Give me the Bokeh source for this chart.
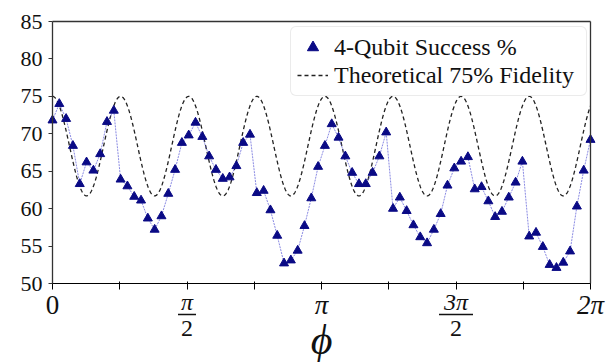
import numpy as np
from bokeh.plotting import figure
from bokeh.models import (Range1d, FixedTicker, Label, Legend, LegendItem,
                          ColumnDataSource, CustomJSTickFormatter, LinearAxis)
from bokeh.embed import file_html
from bokeh.resources import INLINE

# ---------------- data ----------------
N_SAMPLES = 80
success = [71.8, 74.0, 72.0, 68.4, 63.3, 66.2, 65.1, 67.3, 71.6, 73.1,
           63.9, 63.0, 61.6, 61.1, 58.7, 57.2, 59.0, 62.0, 65.2, 68.8,
           69.8, 71.5, 69.6, 67.0, 65.2, 64.0, 64.2, 65.7, 68.8, 69.9,
           62.1, 62.4, 59.8, 56.4, 52.7, 53.1, 54.4, 57.7, 61.4, 65.6,
           68.4, 71.3, 69.5, 67.0, 64.8, 63.3, 63.3, 64.8, 67.0, 70.2,
           60.0, 61.5, 59.7, 57.8, 56.2, 55.4, 57.2, 59.3, 63.1, 65.4,
           66.3, 66.9, 62.6, 62.9, 61.0, 58.9, 59.6, 61.5, 63.5, 66.3,
           56.3, 56.8, 54.9, 52.5, 52.1, 52.8, 54.3, 60.3, 65.1, 69.2]
phi = np.linspace(0, 2 * np.pi, N_SAMPLES)

# theoretical curve (analytic): peak 75, trough 61.7, one period per 10 samples
THEORY_MAX = 75.0
THEORY_MIN = 61.7
THEORY_PERIOD = 10 * (2 * np.pi / (N_SAMPLES - 1))
phi_fine = np.linspace(0, 2 * np.pi, 800)
theory = (THEORY_MAX + THEORY_MIN) / 2 + (THEORY_MAX - THEORY_MIN) / 2 * np.cos(2 * np.pi * phi_fine / THEORY_PERIOD)

y_ticks = [50, 55, 60, 65, 70, 75, 80, 85]
x_ticks = [k * np.pi / 4 for k in range(9)]
x_single_labels = [(0.0, "0", "normal"), (np.pi, "π", "italic"), (2 * np.pi, "2π", "italic")]
x_fraction_labels = [(np.pi / 2, "π"), (3 * np.pi / 2, "3π")]
x_title = "ϕ"

# ---------------- layout (whole canvas is the frame; axes sit at fixed spots) ----------------
W, H = 613, 362
LEFT, RIGHT, TOP, BOTTOM = 52, 23, 21, 79      # margins around the plotting box
YMIN, YMAX = 50, 85
XMAX = 2 * np.pi
YPX = (YMAX - YMIN) / (H - TOP - BOTTOM)       # data units per pixel
PX = XMAX / (W - LEFT - RIGHT)                 # phi units per pixel

def below(px):
    """data-y for a point px pixels below the y=50 axis"""
    return YMIN - px * YPX

SERIF = "serif"
INK = "#111111"
AX = "#333333"

p = figure(width=W, height=H, output_backend="svg", toolbar_location=None,
           x_range=Range1d(-LEFT * PX, XMAX + RIGHT * PX),
           y_range=Range1d(below(BOTTOM), YMAX + TOP * YPX),
           min_border_left=0, min_border_right=0,
           min_border_top=0, min_border_bottom=0)
p.background_fill_color = "white"
p.border_fill_color = "white"
p.outline_line_color = None
p.xgrid.visible = False
p.ygrid.visible = False

p.yaxis.ticker = FixedTicker(ticks=y_ticks)
p.yaxis.bounds = (YMIN, YMAX)
p.yaxis.fixed_location = 0
p.yaxis.major_label_text_font = SERIF
p.yaxis.major_label_text_font_size = "22px"
p.yaxis.major_label_text_color = INK
p.yaxis.major_label_standoff = 6
p.xaxis.ticker = FixedTicker(ticks=x_ticks)
p.xaxis.bounds = (0, XMAX)
p.xaxis.fixed_location = YMIN
p.xaxis.formatter = CustomJSTickFormatter(code="return ''")
p.xaxis.major_label_standoff = 0

top_axis = LinearAxis(ticker=FixedTicker(ticks=[]), bounds=(0, XMAX), fixed_location=YMAX,
                      formatter=CustomJSTickFormatter(code="return ''"))
right_axis = LinearAxis(ticker=FixedTicker(ticks=[]), bounds=(YMIN, YMAX), fixed_location=XMAX,
                        formatter=CustomJSTickFormatter(code="return ''"))
p.add_layout(top_axis, "above")
p.add_layout(right_axis, "right")

for ax in (p.xaxis[0], p.yaxis[0], top_axis, right_axis):
    ax.axis_line_color = AX
    ax.axis_line_width = 1.3
    ax.major_tick_line_color = AX
    ax.major_tick_line_width = 1.2
    ax.major_tick_in = 0
    ax.major_tick_out = 4
    ax.minor_tick_line_color = None
top_axis.major_tick_out = 0
right_axis.major_tick_out = 0

theory_r = p.line(phi_fine, theory, line_color="#222222", line_width=1.3,
                  line_dash="4 3")
src = ColumnDataSource(dict(x=phi, y=success))
p.line("x", "y", source=src, line_color="#5b5bd6", line_width=0.8,
       line_dash="2 1", line_alpha=0.9)
pts = p.scatter("x", "y", source=src, marker="triangle", size=9,
                fill_color="#0a0a85", line_color="#0a0a85")

legend = Legend(items=[LegendItem(label="4-Qubit Success %", renderers=[pts]),
                       LegendItem(label="Theoretical 75% Fidelity", renderers=[theory_r])],
                location="top_right", margin=26, padding=6, spacing=0,
                glyph_width=31, glyph_height=28, label_standoff=6,
                label_text_font=SERIF, label_text_font_size="24px",
                label_text_color=INK, label_height=27, label_width=246,
                border_line_color="#d8d8d8", border_line_width=1,
                background_fill_color="white", background_fill_alpha=0.85)
if "border_radius" in Legend.properties():
    legend.border_radius = 6
p.add_layout(legend)

# ---------------- LaTeX-like tick labels under the axis ----------------
def tlabel(x, px, text, size, style="normal"):
    p.add_layout(Label(x=x, y=below(px), text=text, text_font=SERIF,
                       text_font_size=size, text_font_style=style,
                       text_align="center", text_baseline="middle",
                       text_color=INK))

for xv, txt, style in x_single_labels:
    tlabel(xv, 21, txt, "27px", style)
for xv, num in x_fraction_labels:
    tlabel(xv, 18, num, "24px", "italic")
    half = (len(num) * 8 + 1) * PX
    p.segment(x0=[xv - half], x1=[xv + half], y0=[below(31)], y1=[below(31)],
              line_color=INK, line_width=1.3)
    tlabel(xv, 45, "2", "24px")
tlabel(np.pi, 56, x_title, "42px", "italic")

open("out.html", "w").write(file_html(p, INLINE))
